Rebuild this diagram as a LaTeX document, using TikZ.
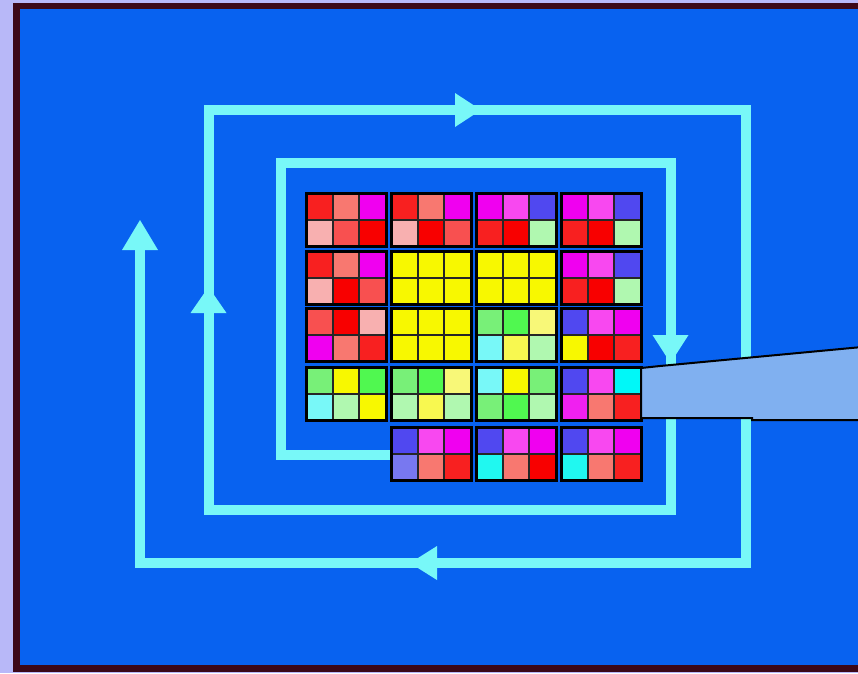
\documentclass[tikz,border=0pt]{standalone}
\definecolor{bgl}{HTML}{B8B8F8}
\definecolor{frm}{HTML}{3C0818}
\definecolor{bbl}{HTML}{0862F0}
\definecolor{cyl}{HTML}{78F8F8}
\definecolor{wdg}{HTML}{80B0F0}
\definecolor{cR}{HTML}{F82020}
\definecolor{cRR}{HTML}{F80000}
\definecolor{cS}{HTML}{F87870}
\definecolor{cM}{HTML}{F000F0}
\definecolor{cP}{HTML}{F8B0B0}
\definecolor{cLR}{HTML}{F85050}
\definecolor{cLM}{HTML}{F848F0}
\definecolor{cV}{HTML}{5048F0}
\definecolor{cLG}{HTML}{B0F8B0}
\definecolor{cY}{HTML}{F8F800}
\definecolor{cGa}{HTML}{78F078}
\definecolor{cGb}{HTML}{50F850}
\definecolor{cLY}{HTML}{F8F878}
\definecolor{cLC}{HTML}{78F8F8}
\definecolor{cYb}{HTML}{F8F850}
\definecolor{cC}{HTML}{00F8F8}
\definecolor{cCb}{HTML}{20F8F0}
\definecolor{cL}{HTML}{7878F0}
\definecolor{cMb}{HTML}{F020F0}
\newcommand\tileblock[3]{%
  \foreach \c [count=\i from 0] in {#3} {
    \pgfmathtruncatemacro\cx{mod(\i,3)}
    \pgfmathtruncatemacro\cy{div(\i,3)}
    \filldraw[tilecell, fill=\c] ({#1+\cx*80/3},{#2+\cy*26.5}) rectangle ++(80/3,26.5);
  }
  \draw[tileframe] (#1,#2) rectangle ++(80,53);}
\tikzset{
  tilecell/.style={draw=black!85, line width=2pt},
  tileframe/.style={draw=black, line width=3pt},
  spiral/.style={draw=cyl, line width=10pt, line join=miter},
  arrowhead/.style={fill=cyl},
}
\begin{document}
\begin{tikzpicture}[x=1pt,y=-1pt]
\useasboundingbox (0,0) rectangle (858,673);
\fill[bgl] (0,0) rectangle (858,673);
\fill[frm] (13,3) rectangle (858,672);
\fill[bbl] (20,9) rectangle (858,665);
% spiral
\draw[spiral] (390,455) -- (281,455) -- (281,163) -- (670.5,163) -- (670.5,510) -- (208.5,510) -- (208.5,110) -- (745.5,110) -- (745.5,563) -- (140,563) -- (140,245);
% arrowheads
\fill[arrowhead] (140,220) -- (122,250) -- (158,250) -- cycle;
\fill[arrowhead] (208.5,287) -- (190.5,313) -- (226.5,313) -- cycle;
\fill[arrowhead] (481,110) -- (455,93) -- (455,127) -- cycle;
\fill[arrowhead] (670.5,363) -- (652.5,335) -- (688.5,335) -- cycle;
\fill[arrowhead] (410,563) -- (437,546) -- (437,580) -- cycle;
% tiles row 1
\tileblock{306}{193}{cR,cS,cM,cP,cLR,cRR}
\tileblock{391}{193}{cR,cS,cM,cP,cRR,cLR}
\tileblock{476}{193}{cM,cLM,cV,cR,cRR,cLG}
\tileblock{561}{193}{cM,cLM,cV,cR,cRR,cLG}
% row 2
\tileblock{306}{251}{cR,cS,cM,cP,cRR,cLR}
\tileblock{391}{251}{cY,cY,cY,cY,cY,cY}
\tileblock{476}{251}{cY,cY,cY,cY,cY,cY}
\tileblock{561}{251}{cM,cLM,cV,cR,cRR,cLG}
% row 3
\tileblock{306}{308}{cLR,cRR,cP,cM,cS,cR}
\tileblock{391}{308}{cY,cY,cY,cY,cY,cY}
\tileblock{476}{308}{cGa,cGb,cLY,cLC,cYb,cLG}
\tileblock{561}{308}{cV,cLM,cM,cY,cRR,cR}
% row 4
\tileblock{306}{367}{cGa,cY,cGb,cLC,cLG,cY}
\tileblock{391}{367}{cGa,cGb,cLY,cLG,cYb,cLG}
\tileblock{476}{367}{cLC,cY,cGa,cGa,cGb,cLG}
\tileblock{561}{367}{cV,cLM,cC,cMb,cS,cR}
% row 5
\tileblock{391}{427}{cV,cLM,cM,cL,cS,cR}
\tileblock{476}{427}{cV,cLM,cM,cCb,cS,cRR}
\tileblock{561}{427}{cV,cLM,cM,cCb,cS,cR}
% wedge
\filldraw[fill=wdg, draw=black, line width=2pt] (862,347) -- (660,366) -- (641,368) -- (641,418) -- (752,418) -- (752,420) -- (862,420);
\end{tikzpicture}
\end{document}
